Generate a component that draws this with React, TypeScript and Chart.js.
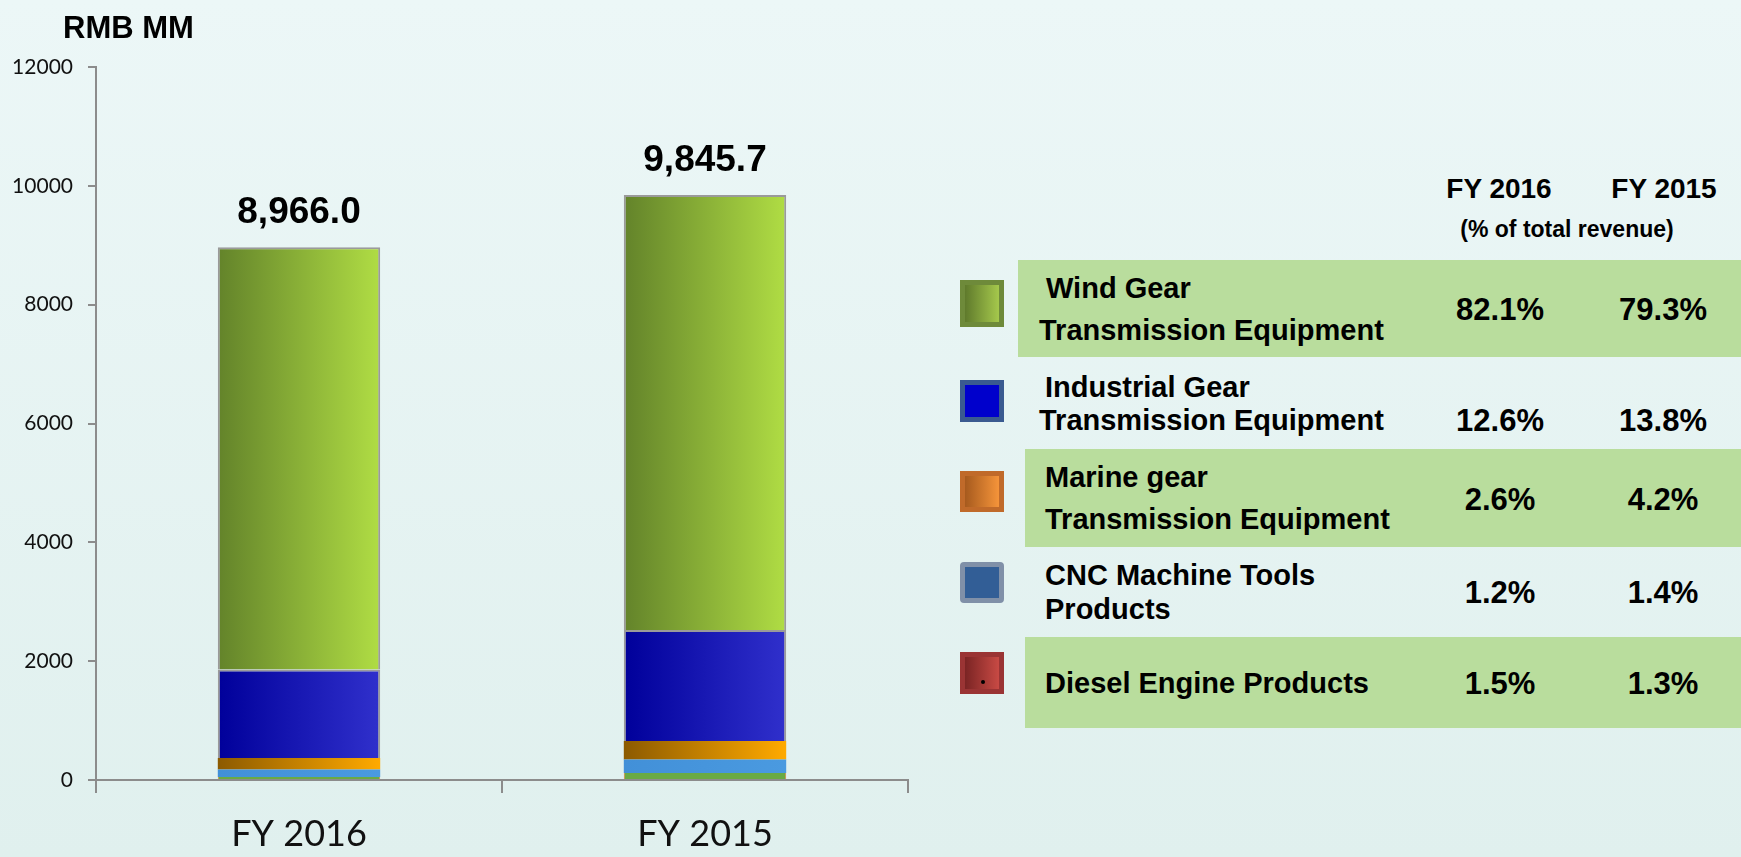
import React, { useEffect, useRef } from "react";
import { Chart, registerables } from "chart.js";

Chart.register(...registerables);

// ---- data ----
const categories = ["FY 2016", "FY 2015"];
const dieselValues = [50, 118];
const cncValues = [125, 226];
const marineValues = [196, 314];
const industrialValues = [1490, 1865];
const windValues = [7105, 7322.7];
const totals = [8966.0, 9845.7];
const yTicks = [0, 2000, 4000, 6000, 8000, 10000, 12000];

const segmentNames = [
  ["Wind Gear", "Transmission Equipment"],
  ["Industrial Gear", "Transmission Equipment"],
  ["Marine gear", "Transmission Equipment"],
  ["CNC Machine Tools", "Products"],
  ["Diesel Engine Products"],
];
const pct2016 = ["82.1%", "12.6%", "2.6%", "1.2%", "1.5%"];
const pct2015 = ["79.3%", "13.8%", "4.2%", "1.4%", "1.3%"];

// ---- styles ----
const AXIS_GRAY = "#8c8c8c";
const BOLD = '"Liberation Sans", Arial, sans-serif';

function fmt(v: number): string {
  const fixed = v.toFixed(1);
  const [intPart, dec] = fixed.split(".");
  const withCommas = intPart.replace(/\B(?=(\d{3})+(?!\d))/g, ",");
  return withCommas + "." + dec;
}

function hGrad(left: string, right: string, fallback: string) {
  return (ctx: any) => {
    const chart = ctx.chart;
    const area = chart.chartArea;
    const xs = chart.scales?.x;
    if (!area || !xs || ctx.dataIndex === undefined) return fallback;
    const cw = (xs.right - xs.left) / categories.length;
    const bw = cw * 0.4;
    const cx = xs.getPixelForValue(ctx.dataIndex);
    const g = chart.ctx.createLinearGradient(cx - bw / 2, 0, cx + bw / 2, 0);
    g.addColorStop(0, left);
    g.addColorStop(1, right);
    return g;
  };
}

const totalsPlugin = {
  id: "totalsLabels",
  afterDatasetsDraw(chart: any) {
    const { ctx, scales } = chart;
    ctx.save();
    ctx.font = `bold 37px ${BOLD}`;
    ctx.fillStyle = "#000";
    ctx.textAlign = "center";
    ctx.textBaseline = "alphabetic";
    totals.forEach((t, i) => {
      const x = scales.x.getPixelForValue(i);
      const y = scales.y.getPixelForValue(t) - 24;
      ctx.fillText(fmt(t), x, y);
    });
    ctx.restore();
  },
};

const legendSquares = [
  { top: 280, h: 47, border: "#6e8a3a", inner: "linear-gradient(90deg,#5f7a2c,#a5c84c)", radius: 0, dot: false },
  { top: 380, h: 42, border: "#3a5a90", inner: "#0000cc", radius: 0, dot: false },
  { top: 471, h: 41, border: "#c06a2a", inner: "linear-gradient(90deg,#a65a1e,#f5943a)", radius: 0, dot: false },
  { top: 562, h: 41, border: "#8090a8", inner: "#325e96", radius: 4, dot: false },
  { top: 652, h: 42, border: "#9a3434", inner: "linear-gradient(90deg,#7a2424,#c84a44)", radius: 0, dot: true },
];

const rowBands = [
  { top: 260, h: 97, left: 1018 },
  { top: 449, h: 98, left: 1025 },
  { top: 637, h: 91, left: 1025 },
];

const textLines = [
  [{ y: 288, x: 1046 }, { y: 330, x: 1039 }],
  [{ y: 387, x: 1045 }, { y: 420, x: 1039 }],
  [{ y: 477, x: 1045 }, { y: 519, x: 1045 }],
  [{ y: 575, x: 1045 }, { y: 609, x: 1045 }],
  [{ y: 683, x: 1045 }],
];
const pctY = [309, 420, 499, 592, 683];

export default function App() {
  const canvasRef = useRef<HTMLCanvasElement | null>(null);

  useEffect(() => {
    if (!canvasRef.current) return;
    const barBorder = "#9a9a9a";
    const chart = new Chart(canvasRef.current, {
      type: "bar",
      data: {
        labels: categories,
        datasets: [
          {
            label: "Diesel Engine Products",
            data: dieselValues,
            backgroundColor: "#6aaa44",
            borderColor: "#e0803a",
            borderWidth: { left: 1, right: 1, top: 0, bottom: 0 },
          },
          {
            label: "CNC Machine Tools Products",
            data: cncValues,
            backgroundColor: hGrad("#4290d8", "#4a9ae0", "#4696dc"),
            borderColor: "#3a78b8",
            borderWidth: 0,
          },
          {
            label: "Marine gear Transmission Equipment",
            data: marineValues,
            backgroundColor: hGrad("#8c5a00", "#ffaa00", "#d08a10"),
            borderWidth: 0,
          },
          {
            label: "Industrial Gear Transmission Equipment",
            data: industrialValues,
            backgroundColor: hGrad("#00009a", "#3030cc", "#1a1ab4"),
            borderColor: barBorder,
            borderWidth: 2,
          },
          {
            label: "Wind Gear Transmission Equipment",
            data: windValues,
            backgroundColor: hGrad("#63832a", "#b0dd44", "#8cb038"),
            borderColor: barBorder,
            borderWidth: 2,
          },
        ],
      },
      options: {
        responsive: false,
        animation: false,
        layout: { padding: { top: 67, right: 22, bottom: 0, left: 0 } },
        plugins: {
          legend: { display: false },
          tooltip: { enabled: false },
          title: { display: false },
        },
        datasets: {
          bar: { categoryPercentage: 0.4, barPercentage: 1 },
        },
        scales: {
          x: {
            stacked: true,
            offset: true,
            grid: {
              display: true,
              offset: true,
              drawOnChartArea: false,
              drawTicks: true,
              tickLength: 13,
              color: AXIS_GRAY,
              lineWidth: 2,
            },
            border: { display: true, color: AXIS_GRAY, width: 2 },
            ticks: {
              color: "#111",
              font: { family: "Lato, 'Open Sans', sans-serif", size: 36 },
              padding: 20,
            },
            afterFit: (scale: any) => {
              scale.height = 77;
            },
          },
          y: {
            stacked: true,
            min: 0,
            max: 12000,
            grid: {
              display: true,
              drawOnChartArea: false,
              drawTicks: true,
              tickLength: 8,
              color: AXIS_GRAY,
              lineWidth: 2,
            },
            border: { display: true, color: AXIS_GRAY, width: 2 },
            afterBuildTicks: (scale: any) => {
              scale.ticks = yTicks.map((v) => ({ value: v }));
            },
            ticks: {
              color: "#111",
              font: { family: "Lato, 'Open Sans', sans-serif", size: 21 },
              padding: 15,
              callback: (v: any) => String(v),
            },
            afterFit: (scale: any) => {
              scale.width = 96;
            },
          },
        },
      },
      plugins: [totalsPlugin],
    });
    return () => chart.destroy();
  }, []);

  const boldText = (size: number): React.CSSProperties => ({
    fontFamily: BOLD,
    fontWeight: 700,
    fontSize: size,
    color: "#000",
    whiteSpace: "nowrap",
    lineHeight: 1,
  });

  return (
    <div
      style={{
        position: "fixed",
        left: 0,
        top: 0,
        width: 1741,
        height: 857,
        background: "linear-gradient(180deg,#ecf7f7 0%,#e0f0ee 100%)",
        overflow: "hidden",
      }}
    >
      <canvas
        ref={canvasRef}
        width={930}
        height={857}
        style={{ position: "absolute", left: 0, top: 0, width: 930, height: 857 }}
      />
      <div style={{ position: "absolute", left: 63, top: 27, transform: "translateY(-50%)", ...boldText(31) }}>
        RMB MM
      </div>

      {rowBands.map((b, i) => (
        <div
          key={"band" + i}
          style={{ position: "absolute", left: b.left, top: b.top, width: 1741 - b.left, height: b.h, background: "#b9dd9d" }}
        />
      ))}

      <div style={{ position: "absolute", left: 1499, top: 189, transform: "translate(-50%,-50%)", ...boldText(28) }}>
        {categories[0]}
      </div>
      <div style={{ position: "absolute", left: 1664, top: 189, transform: "translate(-50%,-50%)", ...boldText(28) }}>
        {categories[1]}
      </div>
      <div style={{ position: "absolute", left: 1567, top: 229, transform: "translate(-50%,-50%)", ...boldText(23) }}>
        (% of total revenue)
      </div>

      {legendSquares.map((s, i) => (
        <div
          key={"sq" + i}
          style={{
            position: "absolute",
            left: 960,
            top: s.top,
            width: 44,
            height: s.h,
            boxSizing: "border-box",
            border: `5px solid ${s.border}`,
            borderRadius: s.radius,
            background: s.inner,
          }}
        >
          {s.dot ? (
            <div
              style={{
                position: "absolute",
                left: 16,
                bottom: 5,
                width: 4,
                height: 4,
                borderRadius: 2,
                background: "#000",
              }}
            />
          ) : null}
        </div>
      ))}

      {segmentNames.map((lines, i) =>
        lines.map((ln, j) => (
          <div
            key={`t${i}-${j}`}
            style={{
              position: "absolute",
              left: textLines[i][j].x,
              top: textLines[i][j].y,
              transform: "translateY(-50%)",
              ...boldText(29),
            }}
          >
            {ln}
          </div>
        ))
      )}

      {pct2016.map((p, i) => (
        <div
          key={"p16" + i}
          style={{ position: "absolute", left: 1500, top: pctY[i], transform: "translate(-50%,-50%)", ...boldText(31) }}
        >
          {p}
        </div>
      ))}
      {pct2015.map((p, i) => (
        <div
          key={"p15" + i}
          style={{ position: "absolute", left: 1663, top: pctY[i], transform: "translate(-50%,-50%)", ...boldText(31) }}
        >
          {p}
        </div>
      ))}
    </div>
  );
}
